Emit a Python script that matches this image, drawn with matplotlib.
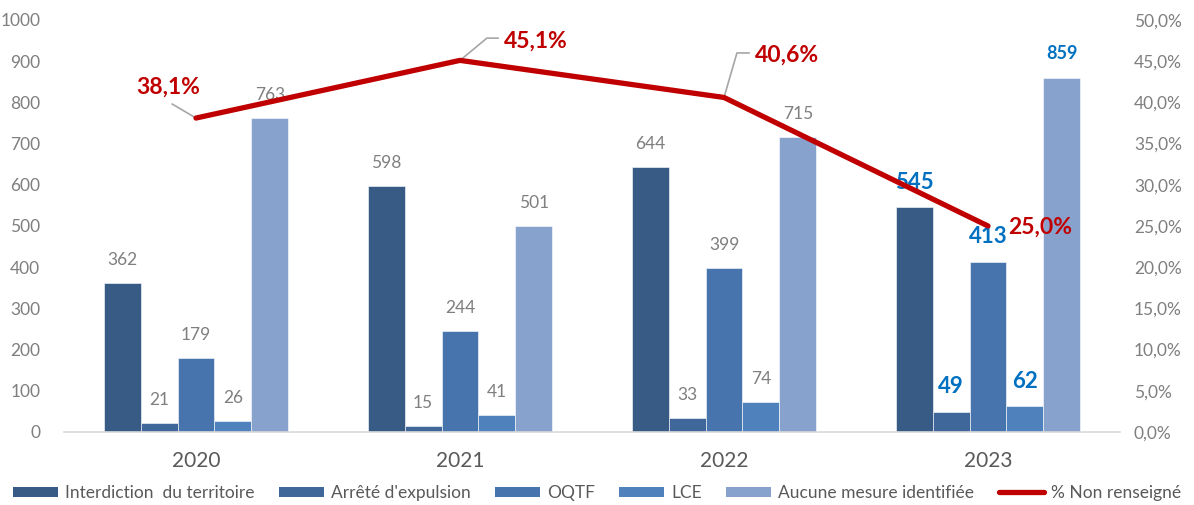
import matplotlib
matplotlib.use("Agg")
import matplotlib.pyplot as plt
import numpy as np
from matplotlib.lines import Line2D
from matplotlib.patches import Patch

years = ["2020", "2021", "2022", "2023"]
series_names = ["Interdiction  du territoire", "Arrêté d'expulsion", "OQTF", "LCE",
                "Aucune mesure identifiée"]
interdiction = [362, 598, 644, 545]
arrete = [21, 15, 33, 49]
oqtf = [179, 244, 399, 413]
lce = [26, 41, 74, 62]
aucune = [763, 501, 715, 859]
pct_non_renseigne = [38.1, 45.1, 40.6, 25.0]
line_name = "% Non renseigné"

colors = ["#375B85", "#3F6799", "#4774AD", "#4F81BD", "#87A2CC"]
gray = "#7F7F7F"
red = "#C00000"
blue_lbl = "#0070C0"

plt.rcParams['font.family'] = ['Lato', 'DejaVu Sans']

W, H = 1194, 505
fig = plt.figure(figsize=(W / 100, H / 100), dpi=100)
x0, x1, ytop, ybot = 64, 1120, 20, 432
ax = fig.add_axes([x0 / W, (H - ybot) / H, (x1 - x0) / W, (ybot - ytop) / H])
ax2 = ax.twinx()

x = np.arange(len(years))
all_series = [interdiction, arrete, oqtf, lce, aucune]
bw = 0.14
for i, (vals, c, name) in enumerate(zip(all_series, colors, series_names)):
    xs = x + (i - 2) * bw
    ax.bar(xs, vals, width=bw, color=c, edgecolor="white", linewidth=0.4, zorder=2)
    for j, (xx, v) in enumerate(zip(xs, vals)):
        if j == 3:
            fs = 13 if i == 4 else 16
            ax.annotate(str(v), (xx, v), xytext=(0, 25), textcoords="offset pixels",
                        ha="center", va="center", fontsize=fs, fontweight="bold",
                        color=blue_lbl, zorder=5)
        else:
            ax.annotate(str(v), (xx, v), xytext=(0, 23), textcoords="offset pixels",
                        ha="center", va="center", fontsize=12.5, color=gray, zorder=5)

ax.set_xlim(-0.5, 3.5)
ax.set_ylim(0, 1000)
ax.set_yticks(range(0, 1001, 100))
ax.set_xticks(x)
ax.set_xticklabels(years, fontsize=15, color="#595959")
ax.tick_params(axis="x", length=0, pad=14)
ax.tick_params(axis="y", length=0, pad=17, labelsize=12.5, labelcolor=gray)
for s in ["top", "right", "left"]:
    ax.spines[s].set_visible(False)
ax.spines["bottom"].set_color("#D9D9D9")
ax.spines["bottom"].set_linewidth(1.2)

# percentage line on secondary axis
ax2.plot(x, pct_non_renseigne, color=red, linewidth=3.8, solid_capstyle="round",
         solid_joinstyle="round", zorder=4)
ax2.set_ylim(0, 50)
ax2.set_yticks(np.arange(0, 50.1, 5))
ax2.set_yticklabels([f"{v:.1f}%".replace(".", ",") for v in np.arange(0, 50.1, 5)])
ax2.tick_params(axis="y", length=0, pad=10, labelsize=12.5, labelcolor=gray)
for s in ["top", "right", "left", "bottom"]:
    ax2.spines[s].set_visible(False)

def fmt(v):
    return f"{v:.1f}%".replace(".", ",")

lead = "#A6A6A6"
pfs = 16.5
# 2020
ax2.plot([0, -0.09], [pct_non_renseigne[0], 39.8], color=lead, lw=1.2, zorder=3)
ax2.text(-0.106, 41.9, fmt(pct_non_renseigne[0]), ha="center", va="center",
         fontsize=pfs, fontweight="bold", color=red)
# 2021
ax2.plot([1, 1.102, 1.144], [pct_non_renseigne[1], 47.8, 47.8], color=lead, lw=1.2, zorder=3)
ax2.text(1.288, 47.45, fmt(pct_non_renseigne[1]), ha="center", va="center",
         fontsize=pfs, fontweight="bold", color=red)
# 2022
ax2.plot([2, 2.049, 2.095], [pct_non_renseigne[2], 46.0, 46.0], color=lead, lw=1.2, zorder=3)
ax2.text(2.239, 45.75, fmt(pct_non_renseigne[2]), ha="center", va="center",
         fontsize=pfs, fontweight="bold", color=red)
# 2023
ax2.text(3.197, 24.8, fmt(pct_non_renseigne[3]), ha="center", va="center",
         fontsize=pfs, fontweight="bold", color=red)

handles = [Patch(facecolor=c, edgecolor="none") for c in colors]
handles.append(Line2D([0], [0], color=red, lw=3.8, solid_capstyle="round"))
leg = fig.legend(handles, series_names + [line_name], loc="center",
                 bbox_to_anchor=(0.5, (H - 493) / H), ncol=6, frameon=False,
                 fontsize=12.5, handlelength=2.6, handleheight=0.55,
                 columnspacing=1.4, handletextpad=0.4)
for t in leg.get_texts():
    t.set_color("#595959")

fig.savefig("out.png", dpi=100)
